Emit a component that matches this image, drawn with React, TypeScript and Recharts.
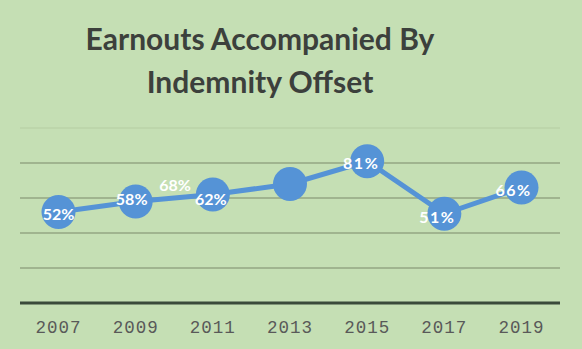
import React from 'react';
import { LineChart, Line, XAxis, YAxis, CartesianGrid, LabelList } from 'recharts';

const years = ['2007', '2009', '2011', '2013', '2015', '2017', '2019'];
const values = [52, 58, 62, 68, 81, 51, 66];
const yTicks = [0, 20, 40, 60, 80, 100];

const data = years.map((y, i) => ({ year: y, value: values[i] }));

// label offsets (style) relative to each point
const labelDx = [0, -4, -2, -115, -6, -7, -8];
const labelDy = [1, -3, 4, 0, 1, 3, 2];
const labelSpacing = [0, 0, 0, 0, 1.5, 1.5, 1.5];

const BG = '#C5DFB4';
const BLUE = '#5593D6';

const renderLabel = (props: any) => {
  const { x, y, value, index } = props;
  return (
    <text
      x={x + labelDx[index]}
      y={y + labelDy[index]}
      textAnchor="middle"
      dominantBaseline="central"
      fill="#FFFFFF"
      fontFamily="Lato, 'Open Sans', sans-serif"
      fontWeight={700}
      fontSize={16}
      letterSpacing={labelSpacing[index]}
    >
      {`${value}%`}
    </text>
  );
};

const renderGridLine = (props: any) => {
  const { x1, x2, y1, y2, index } = props;
  const top = Math.abs(y1 - 128) < 3;
  return (
    <line
      key={`g-${index}-${y1}`}
      x1={x1}
      x2={x2}
      y1={y1}
      y2={y2}
      stroke={top ? '#BAD3A9' : '#A0B48F'}
      strokeWidth={top ? 1.5 : 2}
    />
  );
};

export default function App() {
  return (
    <div style={{ position: 'absolute', left: 0, top: 0, width: 582, height: 349, background: BG, overflow: 'hidden' }}>
      <div
        style={{
          position: 'absolute',
          left: 0,
          top: 17,
          width: 520,
          textAlign: 'center',
          fontFamily: "Lato, 'Open Sans', sans-serif",
          fontWeight: 700,
          fontSize: 30,
          lineHeight: '43px',
          color: '#3C403C',
        }}
      >
        <div>Earnouts Accompanied By</div>
        <div>Indemnity Offset</div>
      </div>
      <div style={{ position: 'absolute', left: 0, top: 0 }}>
        <LineChart width={582} height={349} data={data} margin={{ top: 128, right: 22, bottom: 16, left: 20 }}>
          <CartesianGrid vertical={false} horizontal={renderGridLine as any} />
          <YAxis hide domain={[0, 100]} ticks={yTicks} />
          <XAxis
            dataKey="year"
            height={30}
            padding={{ left: 38.5, right: 38.5 }}
            tickLine={false}
            tickSize={0}
            tickMargin={18}
            axisLine={{ stroke: '#3A4A3A', strokeWidth: 3 }}
            tick={{ fill: '#595959', fontSize: 17.5, letterSpacing: 1, fontFamily: "'Liberation Mono', monospace" }}
            interval={0}
          />
          <Line
            type="linear"
            dataKey="value"
            stroke={BLUE}
            strokeWidth={5}
            dot={{ r: 17, fill: BLUE, stroke: BLUE, strokeWidth: 0 }}
            activeDot={false}
            isAnimationActive={false}
          >
            <LabelList dataKey="value" content={renderLabel} />
          </Line>
        </LineChart>
      </div>
    </div>
  );
}
